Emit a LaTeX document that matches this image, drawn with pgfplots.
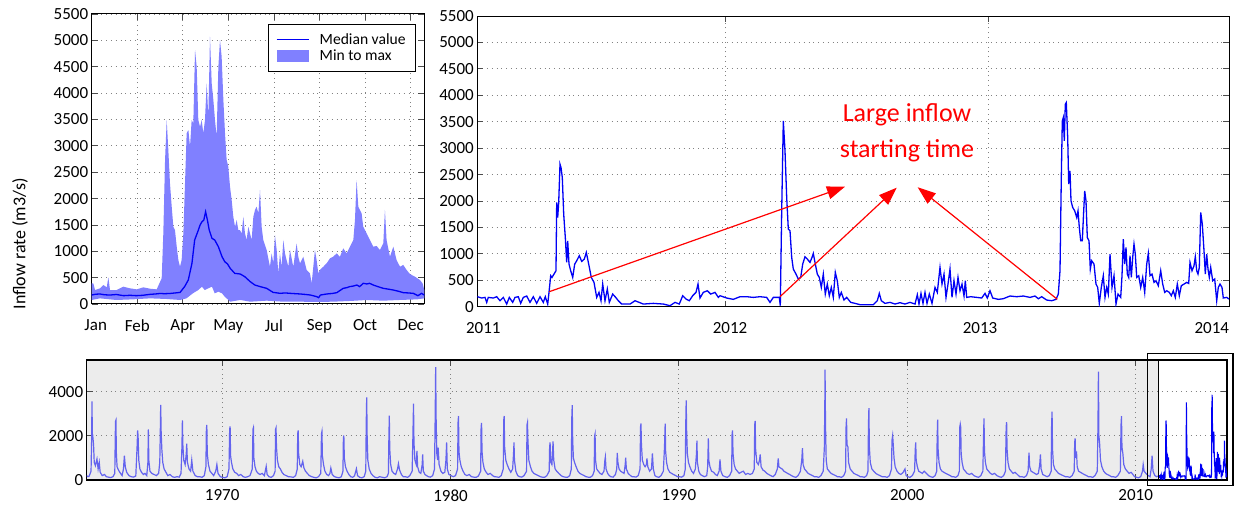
\documentclass[border=0pt]{standalone}
\usepackage{fontspec}
\setmainfont{Carlito}
\usepackage{pgfplots}
\pgfplotsset{compat=1.18}
\usepackage{pgfplotstable}
\usetikzlibrary{arrows.meta}
\definecolor{fillblue}{RGB}{128,128,255}
\definecolor{lineblue}{RGB}{0,0,245}
\definecolor{histblue}{RGB}{100,100,238}
\definecolor{bggray}{RGB}{236,236,236}
\definecolor{gridgray}{RGB}{130,130,130}

\pgfplotsset{mystyle/.style={
 scale only axis,
 axis line style={black, line width=1pt},
 tick align=inside,
 major tick length=6pt,
 tick style={color=black!70, line width=0.8pt},
 grid=major,
 major grid style={gridgray, line width=0.8pt, dash pattern=on 0.8pt off 4pt},
 tick label style={font=\fontsize{17}{20}\selectfont},
 /pgf/number format/assume math mode=true,
 /pgf/number format/1000 sep={},
}}

% median (day, value)
\pgfplotstableread{
x y
0 170
4 185
9 190
14 175
20 170
27 180
35 158
42 165
49 158
56 165
64 183
70 190
75 200
80 195
86 200
92 210
97 220
99 265
102 330
106 455
110 770
113 1214
117 1400
119 1500
121 1560
123 1590
125 1750
127 1590
129 1400
132 1245
135 1214
139 1087
143 898
146 803
149 760
152 676
157 581
163 569
168 518
174 423
179 360
185 329
192 297
199 221
207 202
212 210
218 202
224 195
229 190
235 180
240 170
247 139
249 120
251 170
258 190
264 200
269 215
276 297
280 310
283 329
287 340
291 360
294 329
298 392
302 380
305 392
309 360
314 330
320 297
326 280
331 265
337 240
342 215
347 210
353 202
358 158
362 202
365 170
}\median

% min-to-max band: maximum forward, then minimum backward
\pgfplotstableread{
x y
0 390
1.8 390
3.7 265
9.1 297
12.8 360
16.5 316
18.3 505
20.1 265
27.4 265
34.7 329
42.1 297
49.4 278
56.7 316
64 290
71.3 278
76.8 487
78.6 1340
80.5 2730
82.3 3490
84.1 2920
85.9 2290
87.8 1845
89.6 1466
91.4 1400
93.3 1087
95.1 834
96.9 708
98.7 834
100.6 1340
102.4 2290
104.2 3236
106.1 3300
107.9 2984
109.7 3490
111.5 3426
113.4 4817
115.2 4500
117 3490
118.9 3363
120.7 3490
122.5 3236
124.3 3490
126.2 4184
128 3553
129.8 5070
131.7 4184
133.5 3869
135.3 3490
137.1 3173
139 4500
140.8 5006
142.6 4690
144.5 3869
146.3 3236
148.1 2730
149.9 2604
151.8 2225
153.6 1972
155.4 1656
157.3 1466
159.1 1593
160.9 1400
162.7 1400
164.6 1340
166.4 1656
168.2 1340
170 1214
171.9 1466
173.7 1340
175.5 1214
177.4 1656
179.2 1783
181 1845
182.9 1720
184.7 2160
186.5 1466
188.3 1214
192 1024
195.6 708
197.5 960
199.3 771
201.1 1308
203 1024
204.8 581
206.6 960
208.4 708
210.3 1214
212.1 960
213.9 834
215.8 708
217.6 1024
221.2 708
224.9 1150
226.7 897
228.6 771
232.2 897
235.9 645
239.5 581
241.4 392
243.2 708
245 1024
246.8 834
248.7 581
250.5 645
254.2 708
257.8 771
261.5 866
265.1 897
268.8 960
272.4 897
276.1 1055
279.8 960
283.4 1087
287.1 1214
288.9 1593
290.7 2350
292.6 1845
294.4 1783
296.2 1720
298 1466
301.7 1340
305.4 1214
309 1087
312.7 1100
316.3 1024
320 1150
321.8 1783
323.6 1214
327.3 897
331 1087
334.6 834
338.3 708
341.9 740
345.6 645
349.2 569
354.7 518
360.2 455
363.1 392
365 265
365 107
357 88
338 76
320 63
302 76
283 57
265 44
247 38
229 44
210 44
192 63
174 44
163 76
152 44
146 139
143 202
139 234
135 202
132 329
128 297
124 265
121 329
117 265
111 202
104 107
97 76
82 95
64 107
45 88
27 76
9 107
0 76
}\band

% 2011-2014 series, x in panel units (2011 = 477.3, 2014 = 1229)
\pgfplotstableread{
x y
477.3 189
481.7 164
485 176
486.7 82
488.3 176
493.3 164
496.7 189
500 113
503.3 176
506.7 50
509.3 176
512.7 82
515 176
518.3 189
520.7 63
523.3 176
526.7 202
530 82
533.3 189
536.7 63
540 189
543.3 82
545.3 189
547.7 50
549 271
550.7 586
552 554
554 617
556 680
556.7 1972
557.7 1688
558.7 1972
560 2696
561 2633
562.3 2444
563.7 1751
565.3 1310
566.7 838
567.7 1247
569 806
570.7 680
572.7 554
574.7 806
576.7 869
579.3 964
581.7 857
584.3 901
586.3 1027
588.7 806
591.3 554
594 460
596.7 176
599 271
601 113
602.7 428
605 113
607.3 334
609.3 82
612.7 239
615.7 176
618.3 113
621.7 50
630 50
635 113
643.3 50
653.3 63
663.3 50
670 19
675 82
679.3 50
682.7 208
686 145
689.3 113
692.7 208
696 271
698 428
700 164
703.3 271
707.3 302
710.7 239
715 271
718.3 176
720 208
726.7 164
733.3 139
740 189
746.7 189
753.3 176
760 189
766.7 176
770 82
773.3 176
779.3 176
780.3 19
781.7 1814
783.3 3515
785 2948
786.7 2066
788.3 1468
790 1436
791.7 932
793.3 712
796 617
798.3 523
800.7 554
802.7 806
805 945
807.3 901
810 838
812 932
813.3 1008
815.3 806
817.3 617
819.3 554
821.3 365
823.3 617
825.3 239
827.3 428
829.3 208
831.3 365
833.3 176
835.3 649
837.3 491
839.3 176
841.3 271
844 126
846.7 176
850.7 82
855 63
860 38
866.7 38
873.3 38
877.3 113
879.3 252
881.3 113
885 63
890 82
895 50
900 76
905 50
910 82
915 50
917.3 227
919 50
921 252
923 63
925 271
927 63
929.3 239
932 63
935 365
937.3 271
940 743
942 428
944 617
946 176
948 428
950 712
952 176
954 491
956 239
958 554
960 302
962 428
964 202
965.3 491
966.7 176
970.7 189
976.7 176
981.7 164
985 252
987.3 164
990 302
992.7 164
998.3 139
1003.3 151
1010 202
1016.7 189
1023.3 202
1030 176
1035 202
1038.3 151
1041.7 189
1046.7 126
1051.7 113
1056 139
1058.3 239
1060 680
1061.3 2444
1062.3 3515
1063.3 3578
1064.3 3137
1065.3 3830
1066.3 3862
1067.7 3200
1068.7 2318
1070 2570
1071 2003
1072.7 1877
1074.7 1814
1076.7 1688
1078 1814
1079.3 1499
1080.7 1247
1082.3 1247
1083.7 1814
1084.7 2192
1086 2003
1087.3 1310
1089 1247
1090.3 712
1091.7 869
1094 806
1096 428
1097.7 365
1099.3 63
1101.3 365
1103.3 586
1105 176
1106.7 365
1108.3 239
1110 995
1112 365
1114 586
1116 50
1118 239
1120.7 176
1122 586
1123.3 1279
1124.7 806
1126 1121
1127.3 617
1128.7 554
1130 964
1131.3 554
1132.7 932
1134 1184
1135.3 995
1136.7 554
1138.7 586
1140.7 365
1142.7 554
1144.7 271
1146.7 806
1148.3 1008
1150 586
1152 617
1154 460
1156 491
1158.3 397
1160.7 680
1162.7 428
1164.7 271
1166.7 302
1169.3 271
1171.3 208
1173.3 302
1175.3 176
1177.3 428
1179.3 208
1181.3 397
1184 428
1186.7 460
1188.7 441
1190 838
1192 680
1194 775
1195.3 945
1196.7 680
1198 617
1199.3 743
1200.7 1783
1202.3 1562
1204 1058
1205.3 617
1206.7 995
1208 712
1209.3 554
1210.7 743
1212.7 491
1214.7 523
1216.7 113
1218.3 365
1220 428
1222 365
1223.3 164
1226.7 176
1229 145
}\recent

% 1964-2011 history (decimal year, value)
\pgfplotstableread{
x y
1964.07 200
1964.12 150
1964.18 180
1964.26 400
1964.29 2000
1964.30 3566
1964.32 1900
1964.34 1950
1964.37 1600
1964.40 800
1964.45 650
1964.52 950
1964.57 500
1964.62 800
1964.66 350
1964.75 200
1964.85 250
1964.93 150
1965.02 130
1965.12 110
1965.22 150
1965.30 300
1965.33 2650
1965.35 2713
1965.37 1200
1965.40 600
1965.46 450
1965.55 300
1965.62 200
1965.68 500
1965.72 1100
1965.76 600
1965.82 350
1965.92 200
1966.02 150
1966.12 130
1966.22 180
1966.28 1600
1966.30 2250
1966.32 2000
1966.35 900
1966.40 500
1966.47 350
1966.55 250
1966.62 300
1966.70 200
1966.75 800
1966.77 2300
1966.79 900
1966.84 400
1966.92 300
1967.02 250
1967.12 200
1967.22 300
1967.27 800
1967.29 2000
1967.31 3400
1967.33 2200
1967.36 1400
1967.40 800
1967.46 500
1967.54 350
1967.62 200
1967.72 250
1967.82 150
1967.92 120
1968.02 150
1968.12 130
1968.20 300
1968.24 1500
1968.26 2700
1968.28 1600
1968.32 900
1968.38 700
1968.43 1200
1968.45 1650
1968.48 800
1968.55 500
1968.62 400
1968.67 900
1968.72 400
1968.82 200
1968.92 150
1969.02 150
1969.12 120
1969.22 200
1969.29 600
1969.31 2300
1969.33 2500
1969.35 1200
1969.40 700
1969.47 400
1969.55 300
1969.63 200
1969.72 400
1969.77 700
1969.82 300
1969.92 150
1970.02 120
1970.12 100
1970.22 150
1970.30 500
1970.33 2300
1970.35 2430
1970.37 1100
1970.41 800
1970.47 500
1970.55 350
1970.64 300
1970.72 200
1970.82 250
1970.92 150
1971.02 120
1971.12 150
1971.22 200
1971.32 500
1971.35 2300
1971.37 2370
1971.39 1000
1971.44 600
1971.50 400
1971.58 300
1971.66 250
1971.75 300
1971.85 200
1971.93 620
1971.97 250
1972.05 150
1972.15 120
1972.25 200
1972.32 400
1972.34 2300
1972.36 2360
1972.38 1500
1972.42 900
1972.48 600
1972.55 500
1972.62 350
1972.70 250
1972.80 200
1972.90 150
1973.02 140
1973.12 120
1973.22 200
1973.29 500
1973.31 2100
1973.33 2250
1973.35 1200
1973.40 700
1973.46 600
1973.53 850
1973.58 550
1973.65 400
1973.73 300
1973.82 200
1973.92 150
1974.02 120
1974.12 100
1974.22 150
1974.32 300
1974.35 2100
1974.37 2200
1974.39 1100
1974.44 700
1974.50 400
1974.58 250
1974.66 200
1974.72 300
1974.76 540
1974.82 250
1974.92 150
1975.02 120
1975.12 100
1975.22 150
1975.29 400
1975.31 1900
1975.33 2015
1975.35 1000
1975.40 600
1975.47 400
1975.55 250
1975.63 150
1975.72 120
1975.80 200
1975.88 510
1975.93 200
1976.02 120
1976.12 100
1976.22 150
1976.29 400
1976.31 2600
1976.33 3750
1976.35 2000
1976.38 900
1976.44 500
1976.52 300
1976.60 200
1976.70 120
1976.80 100
1976.90 150
1977.02 120
1977.12 100
1977.22 150
1977.28 300
1977.30 1800
1977.32 2915
1977.34 1400
1977.38 700
1977.44 400
1977.52 300
1977.60 250
1977.68 500
1977.72 740
1977.77 450
1977.85 250
1977.93 150
1978.02 150
1978.12 120
1978.22 200
1978.32 400
1978.35 1800
1978.38 3457
1978.40 1700
1978.44 900
1978.50 700
1978.53 1320
1978.56 600
1978.63 350
1978.70 300
1978.76 700
1978.78 1160
1978.81 400
1978.88 250
1978.95 200
1979.03 150
1979.12 130
1979.22 200
1979.30 500
1979.33 3000
1979.35 5116
1979.37 2800
1979.40 1200
1979.44 900
1979.46 1470
1979.50 700
1979.58 400
1979.66 300
1979.75 350
1979.80 900
1979.83 1700
1979.86 500
1979.93 250
1980.02 200
1980.12 150
1980.22 200
1980.31 500
1980.33 2600
1980.35 2900
1980.37 1300
1980.41 900
1980.47 600
1980.55 400
1980.63 250
1980.72 200
1980.82 250
1980.92 150
1981.02 130
1981.12 120
1981.22 180
1981.32 400
1981.34 2400
1981.36 2590
1981.38 1300
1981.42 800
1981.48 500
1981.56 350
1981.64 250
1981.74 300
1981.84 200
1981.93 150
1982.02 140
1982.12 120
1982.22 200
1982.31 500
1982.33 2700
1982.35 2900
1982.37 1500
1982.42 900
1982.48 700
1982.56 500
1982.64 350
1982.72 500
1982.76 1200
1982.78 1700
1982.80 900
1982.86 400
1982.94 200
1983.02 150
1983.12 130
1983.22 200
1983.33 400
1983.35 2500
1983.37 2600
1983.39 1800
1983.43 900
1983.50 600
1983.57 400
1983.65 300
1983.74 250
1983.84 200
1983.93 150
1984.02 130
1984.12 120
1984.22 200
1984.32 400
1984.34 1500
1984.36 1700
1984.39 800
1984.44 700
1984.47 1300
1984.49 1750
1984.52 900
1984.58 500
1984.65 400
1984.74 300
1984.84 200
1984.93 150
1985.02 130
1985.12 120
1985.22 200
1985.29 500
1985.31 2800
1985.33 3395
1985.35 1800
1985.38 1000
1985.43 800
1985.50 600
1985.58 400
1985.66 300
1985.75 250
1985.85 200
1985.93 150
1986.02 130
1986.12 120
1986.22 200
1986.29 400
1986.31 2000
1986.33 2090
1986.35 900
1986.40 500
1986.47 400
1986.55 300
1986.63 250
1986.72 400
1986.76 900
1986.78 1040
1986.81 500
1986.88 300
1986.95 200
1987.02 150
1987.12 130
1987.22 250
1987.28 500
1987.30 1225
1987.33 800
1987.38 500
1987.45 400
1987.52 350
1987.60 300
1987.65 700
1987.67 1010
1987.70 500
1987.78 300
1987.88 200
1987.95 150
1988.02 150
1988.12 130
1988.22 200
1988.30 500
1988.32 2400
1988.34 2560
1988.36 1600
1988.40 900
1988.46 700
1988.52 600
1988.58 700
1988.60 980
1988.64 600
1988.72 400
1988.80 500
1988.84 1210
1988.88 500
1988.95 200
1989.02 150
1989.12 120
1989.22 200
1989.32 400
1989.37 1500
1989.40 2560
1989.42 1300
1989.46 800
1989.52 500
1989.60 350
1989.68 300
1989.76 250
1989.86 200
1989.94 150
1990.02 150
1990.12 130
1990.22 200
1990.28 500
1990.30 2500
1990.32 3610
1990.34 2200
1990.37 1200
1990.42 800
1990.48 600
1990.56 400
1990.64 300
1990.72 500
1990.77 1200
1990.79 1780
1990.81 800
1990.87 400
1990.94 250
1991.02 200
1991.12 150
1991.22 200
1991.26 600
1991.29 1890
1991.31 900
1991.36 600
1991.43 400
1991.52 350
1991.60 250
1991.68 200
1991.76 400
1991.80 930
1991.84 400
1991.92 200
1992.02 150
1992.12 120
1992.22 200
1992.31 400
1992.33 2100
1992.35 2250
1992.37 1200
1992.42 700
1992.48 500
1992.56 400
1992.64 300
1992.72 350
1992.82 400
1992.92 250
1993.02 300
1993.12 250
1993.22 300
1993.30 500
1993.32 2500
1993.34 2680
1993.36 1400
1993.41 800
1993.48 700
1993.53 900
1993.56 1160
1993.60 600
1993.68 450
1993.76 400
1993.85 300
1993.93 250
1994.02 200
1994.12 150
1994.22 250
1994.31 500
1994.35 980
1994.38 600
1994.44 550
1994.52 500
1994.60 400
1994.68 350
1994.76 300
1994.85 250
1994.93 200
1995.02 150
1995.12 120
1995.22 200
1995.32 400
1995.38 900
1995.41 1440
1995.44 700
1995.50 500
1995.58 400
1995.66 300
1995.75 250
1995.85 200
1995.93 150
1996.02 150
1996.12 120
1996.22 200
1996.32 400
1996.37 1500
1996.39 3500
1996.40 5000
1996.42 2500
1996.45 900
1996.50 500
1996.58 400
1996.66 300
1996.76 250
1996.86 200
1996.94 150
1997.02 150
1997.12 120
1997.22 200
1997.30 400
1997.32 2400
1997.34 2790
1997.36 1600
1997.40 1500
1997.43 800
1997.50 500
1997.58 400
1997.66 300
1997.76 250
1997.86 200
1997.94 150
1998.02 150
1998.12 120
1998.22 200
1998.28 400
1998.30 2500
1998.32 3255
1998.34 1500
1998.38 800
1998.45 500
1998.53 400
1998.62 300
1998.70 250
1998.80 200
1998.90 150
1999.02 150
1999.12 120
1999.22 200
1999.31 500
1999.33 1800
1999.36 2015
1999.38 1700
1999.42 1000
1999.47 600
1999.55 400
1999.63 300
1999.72 250
1999.82 350
1999.90 500
1999.95 200
2000.02 150
2000.12 120
2000.22 200
2000.32 400
2000.35 1400
2000.37 1700
2000.39 900
2000.44 600
2000.50 400
2000.58 350
2000.66 300
2000.74 400
2000.84 300
2000.93 200
2001.02 150
2001.12 120
2001.22 200
2001.29 400
2001.31 2000
2001.33 2740
2001.35 1400
2001.39 800
2001.45 500
2001.52 400
2001.60 350
2001.68 300
2001.78 250
2001.88 200
2001.95 150
2002.02 150
2002.12 120
2002.22 200
2002.28 400
2002.30 2400
2002.32 2530
2002.34 2400
2002.36 1200
2002.40 800
2002.46 500
2002.54 400
2002.62 300
2002.72 250
2002.82 300
2002.92 200
2003.02 150
2003.12 120
2003.22 200
2003.31 400
2003.34 2000
2003.36 2790
2003.38 1300
2003.42 800
2003.48 500
2003.56 400
2003.64 300
2003.72 250
2003.82 300
2003.92 200
2004.02 150
2004.12 120
2004.22 200
2004.30 400
2004.33 2400
2004.35 2620
2004.37 1400
2004.41 800
2004.47 500
2004.55 400
2004.63 300
2004.72 350
2004.82 250
2004.92 150
2005.02 150
2005.12 120
2005.22 200
2005.29 400
2005.33 1240
2005.36 600
2005.42 400
2005.50 350
2005.58 300
2005.66 250
2005.74 300
2005.80 700
2005.83 1160
2005.86 500
2005.93 250
2006.02 200
2006.12 150
2006.22 200
2006.30 400
2006.32 2500
2006.34 3100
2006.36 1400
2006.40 700
2006.46 500
2006.54 400
2006.62 300
2006.72 250
2006.82 200
2006.92 150
2007.02 150
2007.12 120
2007.22 200
2007.31 400
2007.33 1700
2007.35 1890
2007.37 1000
2007.41 1300
2007.44 600
2007.50 400
2007.58 350
2007.66 300
2007.75 250
2007.85 200
2007.93 150
2008.02 150
2008.12 120
2008.22 200
2008.32 400
2008.35 2500
2008.37 4915
2008.39 2000
2008.42 1700
2008.46 900
2008.52 600
2008.60 400
2008.68 300
2008.76 250
2008.86 200
2008.94 150
2009.02 150
2009.12 120
2009.22 200
2009.33 400
2009.36 2500
2009.38 2900
2009.40 1500
2009.44 1200
2009.48 700
2009.55 500
2009.63 400
2009.71 300
2009.80 350
2009.88 250
2009.95 150
2010.02 130
2010.12 100
2010.22 150
2010.30 400
2010.33 700
2010.37 400
2010.45 300
2010.55 200
2010.63 150
2010.68 500
2010.72 1100
2010.76 400
2010.84 200
2010.92 150
2010.99 180
}\hist

\begin{document}
\begin{tikzpicture}[x=1pt,y=1pt]
\path[use as bounding box] (0,0) rectangle (1240,506);

% grey background of the historical part (bottom panel)
\fill[bggray] (86.7,26) rectangle (1158.3,146);

%================ top-left: seasonal statistics ================
\begin{axis}[mystyle,
  at={(91.7pt,202pt)}, anchor=south west,
  width=332.6pt, height=290pt,
  xmin=0, xmax=365, ymin=0, ymax=5500,
  xtick={0,50,100,150,200,250,300,350},
  xticklabels={\hspace*{8pt}Jan,Feb,Apr,May,Jul,Sep,Oct,Dec},
  ytick={0,500,...,5500},
  xticklabel shift=12pt,
  legend style={at={(0.975,0.965)}, anchor=north east,
    draw=black, line width=0.8pt, font=\fontsize{15.6}{18}\selectfont,
    inner xsep=8pt, inner ysep=7pt},
  legend cell align=left,
]
\addplot[fill=fillblue, draw=none, forget plot] table {\band};
\addplot[lineblue, line width=1.3pt,
  legend image code/.code={\path[draw=none, fill=none] (0pt,-7.2pt) rectangle (41pt,7.2pt);
    \draw[lineblue, line width=1.3pt] (0pt,0pt) -- (32pt,0pt);}] table {\median};
\addlegendentry{Median value}
\addlegendimage{legend image code/.code={\path[draw=none, fill=none] (0pt,-7.2pt) rectangle (41pt,7.2pt);
    \fill[fillblue, draw=none] (0pt,-6pt) rectangle (32pt,6pt);}}
\addlegendentry{Min to max}
\end{axis}

%================ top-right: 2011-2014 ================
\begin{axis}[mystyle,
  at={(477.3pt,199.3pt)}, anchor=south west,
  width=751.7pt, height=290.7pt,
  xmin=477.3, xmax=1229, ymin=0, ymax=5500,
  xtick={477.3,725,988,1229},
  xticklabels={\hspace*{12pt}2011,\hspace*{10pt}2012,2013\hspace*{16pt},\makebox[0pt][r]{2014}},
  ytick={0,500,...,5500},
  xticklabel shift=12pt,
]
\addplot[lineblue, line width=1.3pt] table {\recent};
\end{axis}

%================ bottom: full record ================
\begin{axis}[mystyle,
  at={(86.7pt,26pt)}, anchor=south west,
  width=1140.3pt, height=120pt,
  xmin=1964.07, xmax=2014, ymin=0, ymax=5440,
  xtick={1970,1980,1990,2000,2010},
  ytick={0,2000,4000},
  xticklabel shift=6pt,
  axis line style={black, line width=1.3pt},
]
\addplot[histblue, line width=1.2pt] table {\hist};
\addplot[lineblue, line width=1.1pt] table[x expr={2011+(\thisrowno{0}-477.3)*3/751.7}, y index=1] {\recent};
\addplot[black, line width=1pt] coordinates {(2011,0) (2011,5440)};
\end{axis}

% inset frame
\draw[black, line width=1.2pt] (1147.7,20.3) rectangle (1233,152.3);

% y label
\node[rotate=90, font=\fontsize{18}{21}\selectfont] at (20,262) {Inflow rate (m3/s)};

% annotation
\node[red, anchor=base, font=\fontsize{26}{30}\selectfont] at (907,384.3) {Large inflow};
\node[red, anchor=base, font=\fontsize{26}{30}\selectfont] at (907,348) {starting time};
\draw[red, line width=1.2pt, -{Triangle[length=18pt,width=13pt]}] (549.3,214.3) -- (845,319.3);
\draw[red, line width=1.2pt, -{Triangle[length=18pt,width=13pt]}] (780,209.3) -- (896.7,318.3);
\draw[red, line width=1.2pt, -{Triangle[length=18pt,width=13pt]}] (1057.3,206.7) -- (917.7,318.7);
\end{tikzpicture}
\end{document}
